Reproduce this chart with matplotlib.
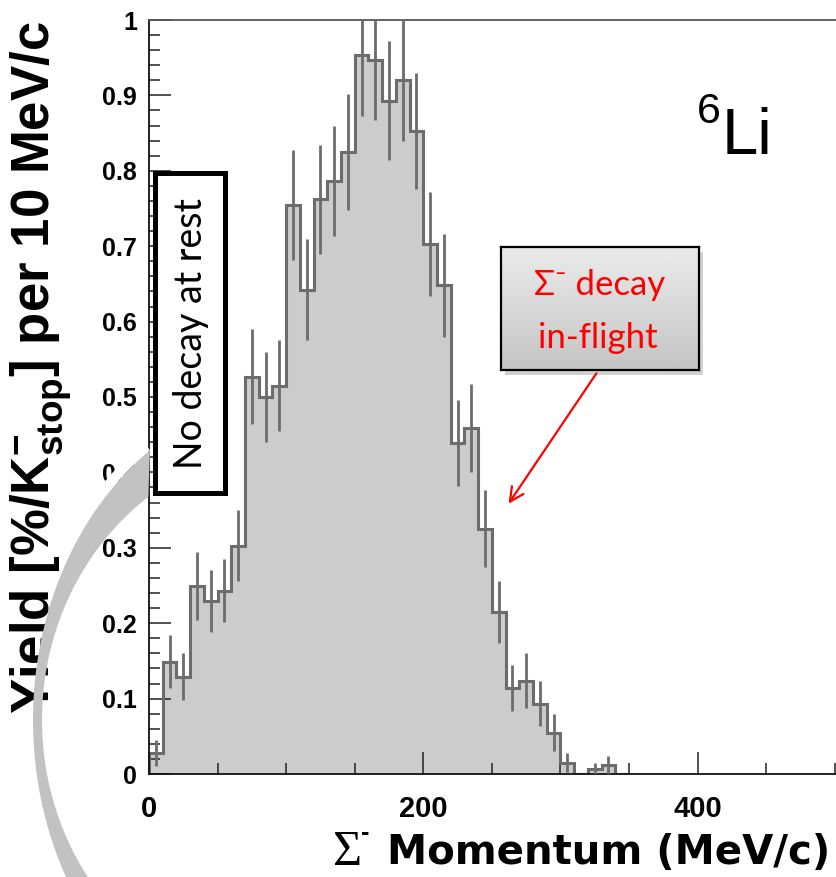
import matplotlib
matplotlib.use("Agg")
import matplotlib.pyplot as plt
import numpy as np
from matplotlib.patches import Rectangle, Polygon, FancyArrowPatch
from matplotlib.transforms import Affine2D

W, H = 836, 877

# Sigma- momentum spectrum, 10 MeV/c bins starting at 0
bin_edges = np.arange(0, 360, 10)
yield_vals = [0.028, 0.149, 0.129, 0.249, 0.229, 0.243, 0.303, 0.527, 0.500, 0.515,
              0.755, 0.642, 0.762, 0.786, 0.825, 0.953, 0.947, 0.893, 0.921, 0.853,
              0.703, 0.648, 0.439, 0.459, 0.325, 0.215, 0.114, 0.124, 0.093, 0.055,
              0.015, 0.0, 0.007, 0.012, 0.0]
yield_errs = [0.017, 0.035, 0.031, 0.045, 0.041, 0.042, 0.047, 0.063, 0.060, 0.060,
              0.073, 0.067, 0.072, 0.073, 0.077, 0.080, 0.080, 0.079, 0.082, 0.077,
              0.069, 0.068, 0.057, 0.058, 0.051, 0.041, 0.031, 0.036, 0.030, 0.025,
              0.013, 0.0, 0.007, 0.012, 0.0]
x_ticks = [0, 200, 400]
y_ticks = [0, 0.1, 0.2, 0.3, 0.4, 0.5, 0.6, 0.7, 0.8, 0.9, 1.0]
y_tick_labels = ["0", "0.1", "0.2", "0.3", "0.4", "0.5", "0.6", "0.7", "0.8", "0.9", "1"]

plt.rcParams['mathtext.fontset'] = 'custom'
plt.rcParams['mathtext.rm'] = 'Liberation Sans:bold'
plt.rcParams['mathtext.bf'] = 'Liberation Sans:bold'
plt.rcParams['mathtext.default'] = 'rm'

fig = plt.figure(figsize=(W / 100, H / 100), dpi=100)
# pixel coordinates, origin top-left
px = Affine2D().scale(1 / W, -1 / H).translate(0, 1) + fig.transFigure

ax = fig.add_axes([149 / W, (H - 774) / H, (W - 149) / W + 0.01, (774 - 20) / H])
vals = np.array(yield_vals)
errs = np.array(yield_errs)
centers = 0.5 * (bin_edges[:-1] + bin_edges[1:])
ax.stairs(vals, bin_edges, fill=True, color='#cccccc', zorder=1)
ax.stairs(vals, bin_edges, color='#6c6c6c', linewidth=2.2, zorder=2)
m = errs > 0
ax.errorbar(centers[m], vals[m], yerr=errs[m], fmt='none', ecolor='#6c6c6c',
            elinewidth=2.0, capsize=0, zorder=3)

ax.set_xlim(0, 687 * 200 / 271)
ax.set_ylim(0, 1)
ax.spines['right'].set_visible(False)
for s in ['left', 'bottom']:
    ax.spines[s].set_linewidth(1.3)
    ax.spines[s].set_color('#111111')
ax.spines['top'].set_linewidth(1.3)
ax.spines['top'].set_color('#555555')

ax.set_xticks(x_ticks, labels=[str(v) for v in x_ticks], fontsize=21,
              fontweight='bold', family='Liberation Sans')
ax.set_xticks(np.arange(0, 520, 50), minor=True)
ax.set_yticks(y_ticks, labels=y_tick_labels, fontsize=18,
              fontweight='bold', family='Liberation Sans')
ax.set_yticks(np.arange(0, 1.0001, 0.02), minor=True)
ax.tick_params(which='both', direction='in', color='#222222', width=1.1,
               top=False, right=False)
ax.tick_params(which='major', length=16)
ax.tick_params(which='minor', length=8)
ax.tick_params(axis='y', which='major', pad=8.5)
ax.tick_params(axis='x', which='major', pad=15)

# axis titles
fig.text(41 / W, 1 - 368 / H, r"Yield [%/K$^{-}_{stop}$] per 10 MeV/c",
         rotation=90, ha='center', va='center', fontsize=38, fontweight='bold',
         family='Liberation Sans', zorder=2)
fig.text(333, 865, "\u03a3", transform=px, ha='left', va='baseline',
         fontsize=36, family='Liberation Serif', zorder=2)
fig.text(361, 840, "-", transform=px, ha='left', va='baseline',
         fontsize=18, fontweight='bold', family='Liberation Sans', zorder=2)
fig.text(387, 864, "Momentum (MeV/c)", transform=px, ha='left', va='baseline',
         fontsize=29, fontweight='bold', family='DejaVu Sans', zorder=2)

# decorative grey crescent from the slide
t_out = np.radians(np.linspace(235.8, 146.5, 120))
t_in = np.radians(np.linspace(140.0, 234.0, 120))
outer = np.column_stack([300 + 267 * np.cos(t_out), 720 + 326 * np.sin(t_out)])
inner = np.column_stack([300 + 258 * np.cos(t_in), 720 + 276 * np.sin(t_in)])
t_glow = np.radians(np.linspace(235.8, 212, 40))
glow_out = np.column_stack([300 + 277 * np.cos(t_glow), 720 + 336 * np.sin(t_glow)])
glow_in = np.column_stack([300 + 267 * np.cos(t_glow[::-1]), 720 + 326 * np.sin(t_glow[::-1])])
fig.add_artist(Polygon(np.vstack([glow_out, glow_in]), closed=True, transform=px,
                       facecolor='white', edgecolor='none', zorder=4))
fig.add_artist(Polygon(np.vstack([outer, inner]), closed=True, transform=px,
                       facecolor='#c2c2c2', edgecolor='none', zorder=4))

# "No decay at rest" box
fig.add_artist(Rectangle((154.5, 173), 70, 320, transform=px, facecolor='white',
                         edgecolor='black', linewidth=3.6, zorder=5))
fig.text(191, 334, "No decay at rest", transform=px, rotation=90, ha='center',
         va='center', fontsize=27, family='Lato', zorder=6)

# "Sigma- decay in-flight" callout
fig.add_artist(Rectangle((505, 252), 198, 123, transform=px, facecolor='#999999',
                         edgecolor='none', alpha=0.45, zorder=5))
bax = fig.add_axes([501 / W, 1 - 370 / H, 198 / W, 123 / H], zorder=6)
bax.imshow(np.linspace(0.92, 0.77, 60).reshape(-1, 1), cmap='gray', vmin=0, vmax=1,
           aspect='auto', extent=[0, 1, 0, 1])
bax.set_xticks([])
bax.set_yticks([])
for s in bax.spines.values():
    s.set_linewidth(1.6)
    s.set_color('black')
fig.text(600, 295, "\u03a3\u207b decay", transform=px, ha='center', va='baseline',
         fontsize=25, color='#ff0000', family=['Lato', 'DejaVu Sans'], zorder=8)
fig.text(598, 348, "in-flight", transform=px, ha='center', va='baseline',
         fontsize=25, color='#ff0000', family=['Lato', 'DejaVu Sans'], zorder=8)
fig.add_artist(FancyArrowPatch((598, 371), (507, 506), transform=px,
                               arrowstyle='->,head_length=10,head_width=5',
                               color='#ff0000', linewidth=1.6, zorder=8))

# nucleus label
fig.text(697, 123, "6", transform=px, ha='left', va='baseline', fontsize=31,
         family='Liberation Sans', zorder=6)
fig.text(722, 154, "Li", transform=px, ha='left', va='baseline', fontsize=47,
         family='Liberation Sans', zorder=6)

fig.savefig("out.png", dpi=100)
